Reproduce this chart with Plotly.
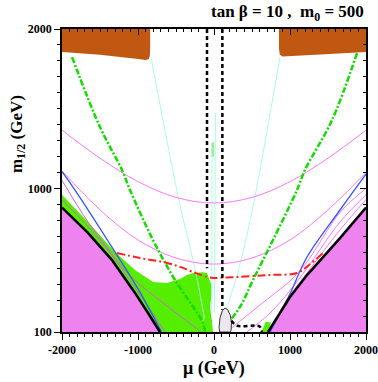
import plotly.graph_objects as go

# ---- data (mu, m_1/2 in GeV) ----
# electroweak-vacuum excluded (pink) regions, boundary points
pink_left_x = [-2000, -2000, -1658, -1342, -1039, -868, -737, -711]
pink_left_y = [100, 880, 721, 551, 345, 219, 112, 100]
pink_right_x = [711, 1000, 1224, 1658, 2000, 2000]
pink_right_y = [100, 319, 457, 689, 880, 100]

# charged LSP (brown) regions
brown_left_x = [-2000, -1500, -1000, -900, -860, -845, -840, -840, -2000]
brown_left_y = [1855, 1838, 1812, 1805, 1810, 1830, 1880, 2000, 2000]
brown_right_x = [855, 855, 865, 900, 1400, 2000, 2000]
brown_right_y = [2000, 1880, 1840, 1828, 1840, 1855, 2000]

# relic density (green) region
green_x = [-2000, -1658, -1303, -1039, -803, -618, -447, -355, -276, -150, -92, -66,
           -26, -40, -53, -30, -13, -711, -737, -868, -1039, -1342, -1658, -2000]
green_y = [960, 790, 602, 489, 413, 407, 432, 457, 470, 475, 470, 439,
           382, 300, 257, 180, 100, 100, 112, 219, 345, 551, 721, 885]
green_patch_x = [625, 711, 750, 680]
green_patch_y = [100, 100, 160, 165]

# small ellipse near mu ~ 150
ell_x = [145, 180, 215, 230, 225, 215, 75, 66, 80, 110, 145]
ell_y = [250, 240, 205, 160, 110, 100, 100, 130, 190, 235, 250]

# thin pink contours
p1_x = [-2000, -1500, -1000, -500, 0, 500, 1000, 1500, 2000]
p1_y = [1366, 1190, 1043, 944, 909, 944, 1043, 1190, 1366]
p2_x = [-2000, -1500, -1000, -500, 0, 500, 1000, 1500, 2000]
p2_y = [1110, 866, 677, 564, 526, 564, 677, 866, 1100]
pl1_x = [-2000, -1658, -1342, -1039, -868, -700, -640]
pl1_y = [930, 760, 580, 375, 260, 140, 100]
pl2_x = [-2000, -1658, -1342, -1100, -800, -500, -200, -180]
pl2_y = [1050, 790, 590, 450, 330, 220, 110, 100]
pr1_x = [171, 450, 737, 1000, 1224, 1658, 2000]
pr1_y = [100, 210, 319, 420, 540, 850, 1000]
pr2_x = [434, 737, 1000, 1224, 1658, 2000]
pr2_y = [100, 219, 360, 500, 790, 960]
pr3_x = [880, 1000, 1224, 1658, 2000]
pr3_y = [240, 330, 470, 740, 930]

# blue contour
blue_l_x = [-2000, -1829, -1303, -1000, -690]
blue_l_y = [1105, 990, 602, 370, 100]
blue_r_x = [737, 1000, 1224, 1658, 2000]
blue_r_y = [100, 340, 570, 865, 1090]

# green dash-dot contours
gdd_l_x = [-1868, -1500, -1211, -1105, -803, -513, -145, -120]
gdd_l_y = [1824, 1385, 1116, 990, 677, 426, 156, 100]
gdd_r_x = [1882, 1553, 1197, 1092, 776, 513, 342, 118, 100]
gdd_r_y = [1849, 1429, 1116, 990, 677, 426, 257, 113, 100]

# red dash-dot contour
red_x = [-1276, -974, -618, -447, -276, -92, -13, 40, 300, 700, 1092, 1250, 1434]
red_y = [595, 564, 533, 508, 476, 445, 439, 439, 445, 457, 470, 520, 595]

# pale aquamarine contours
pale_l_x = [-829, -450, -316, -230, -150, -130, -145]
pale_l_y = [1824, 900, 633, 450, 250, 190, 170]
pale_r_x = [868, 560, 430, 300, 170, 150]
pale_r_y = [1824, 1000, 700, 450, 250, 200]
pale_c1_x = [-26, -30]
pale_c1_y = [1285, 220]
pale_c2_x = [20, 5]
pale_c2_y = [1473, 220]
lg_x = [-15, -15]
lg_y = [1200, 1290]

# chargino (black dashed)
cha_l_x = [-92, -92]
cha_l_y = [2000, 500]
cha_r_x = [110, 110]
cha_r_y = [2000, 240]
cha_b_x = [230, 300, 600, 630]
cha_b_y = [170, 140, 135, 100]

fig = go.Figure()


def fill(x, y, color, line_color=None, lw=0):
    fig.add_trace(go.Scatter(x=x, y=y, fill="toself", fillcolor=color, mode="lines",
                             line=dict(color=line_color or color, width=lw),
                             hoverinfo="skip", showlegend=False))


def line(x, y, color, width=1, dash="solid", shape="spline"):
    fig.add_trace(go.Scatter(x=x, y=y, mode="lines",
                             line=dict(color=color, width=width, dash=dash, shape=shape),
                             hoverinfo="skip", showlegend=False))


fill(green_x, green_y, "#55ee00")
fill(green_patch_x, green_patch_y, "#55ee00")
fill(pink_left_x, pink_left_y, "#ee82ee")
fill(pink_right_x, pink_right_y, "#ee82ee")
fill(brown_left_x, brown_left_y, "#c05812")
fill(brown_right_x, brown_right_y, "#c05812")

line(pale_l_x, pale_l_y, "#aaffdd", 1)
line(pale_r_x, pale_r_y, "#aaffdd", 1)
line(pale_c1_x, pale_c1_y, "#aaffdd", 1)
line(pale_c2_x, pale_c2_y, "#aaffdd", 1)
line(lg_x, lg_y, "#99ee99", 2.5)

line(p1_x, p1_y, "#ff77ff", 1)
line(p2_x, p2_y, "#ff77ff", 1)
line(pl1_x, pl1_y, "#cc66cc", 1)
line(pl2_x, pl2_y, "#cc66cc", 1)
line(pr1_x, pr1_y, "#ff77ff", 1)
line(pr2_x, pr2_y, "#ff77ff", 1)
line(pr3_x, pr3_y, "#ff77ff", 1)

line(blue_l_x, blue_l_y, "#3355ff", 1.3)
line(blue_r_x, blue_r_y, "#3355ff", 1.3)

line(gdd_l_x, gdd_l_y, "#11dd00", 2.5, "6px,2px,2px,2px")
line(gdd_r_x, gdd_r_y, "#11dd00", 2.5, "6px,2px,2px,2px")
line(red_x, red_y, "#ff2020", 2, "8px,3px,2px,3px")

fill(ell_x, ell_y, "#eee6ee", "#333333", 1)

line(cha_l_x, cha_l_y, "black", 2.5, "4px,3px", "linear")
line(cha_r_x, cha_r_y, "black", 2.5, "4px,3px", "linear")
line(cha_b_x, cha_b_y, "black", 2.5, "4px,3px")

line(pink_left_x[1:], pink_left_y[1:], "black", 2.5, shape="linear")
line(pink_right_x[:-1], pink_right_y[:-1], "black", 2.5, shape="linear")

# dummy trace so the mirrored (inside-tick) axes are drawn
fig.add_trace(go.Scatter(x=[None], y=[None], xaxis="x2", yaxis="y2", showlegend=False))

font_ax = dict(family="Liberation Serif", size=12, color="black")
minor = dict(dtick=100, tick0=0, ticklen=3, tickwidth=1, tickcolor="black")
xt = [-2000, -1000, 0, 1000, 2000]
yt = [100, 1000, 2000]

fig.update_layout(
    width=378, height=382,
    margin=dict(l=62, r=12, t=29, b=50),
    plot_bgcolor="white", paper_bgcolor="white",
    font=dict(family="Liberation Serif", color="black"),
    xaxis=dict(range=[-2000, 2000], tickvals=xt,
               ticktext=["<b>%d</b>" % v for v in xt],
               ticks="outside", ticklen=6, tickwidth=1, tickcolor="black",
               minor=dict(ticks="outside", **minor), automargin=False,
               showline=True, linecolor="black", linewidth=1.5, showgrid=False,
               zeroline=False, tickfont=font_ax),
    yaxis=dict(range=[100, 2000], tickvals=yt,
               ticktext=["<b>%d</b>" % v for v in yt],
               ticks="outside", ticklen=6, tickwidth=1, tickcolor="black",
               minor=dict(ticks="outside", **minor), automargin=False,
               showline=True, linecolor="black", linewidth=1.5, showgrid=False,
               zeroline=False, tickfont=font_ax),
    xaxis2=dict(range=[-2000, 2000], overlaying="x", side="top",
                tickvals=xt, showticklabels=False, automargin=False,
                ticks="inside", ticklen=6, tickwidth=1, tickcolor="black",
                minor=dict(ticks="inside", **minor),
                showline=True, linecolor="black", linewidth=1.5, showgrid=False, zeroline=False),
    yaxis2=dict(range=[100, 2000], overlaying="y", side="right",
                tickvals=yt, showticklabels=False, automargin=False,
                ticks="inside", ticklen=6, tickwidth=1, tickcolor="black",
                minor=dict(ticks="inside", **minor),
                showline=True, linecolor="black", linewidth=1.5, showgrid=False, zeroline=False),
    annotations=[
        dict(text="<b>tan β = 10 ,  m<sub>0</sub> = 500</b>", xref="paper", yref="paper",
             x=1.0, y=1.0, xanchor="right", yanchor="bottom", yshift=3, showarrow=False,
             font=dict(family="Liberation Serif", size=17)),
        dict(text="<b>μ (GeV)</b>", xref="paper", yref="paper", x=0.5, y=-0.122,
             xanchor="center", yanchor="middle", showarrow=False,
             font=dict(family="Liberation Serif", size=18)),
        dict(text="<b>m<sub>1/2</sub> (GeV)</b>", xref="paper", yref="paper", x=-0.145, y=0.653,
             xanchor="center", yanchor="middle", textangle=-90, showarrow=False,
             font=dict(family="Liberation Serif", size=17)),
    ],
)

fig.write_html("out.html", config={"displayModeBar": False},
               post_script="document.body.style.margin='0';")
